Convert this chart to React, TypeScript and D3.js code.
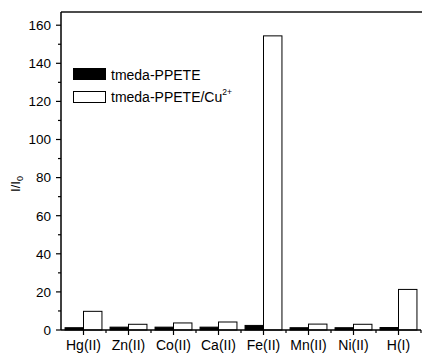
import React from "react";
import * as d3 from "d3";

const categories = ["Hg(II)", "Zn(II)", "Co(II)", "Ca(II)", "Fe(II)", "Mn(II)", "Ni(II)", "H(I)"];
const ppeteValues = [1.2, 1.5, 1.5, 1.5, 2.4, 1.2, 1.2, 1.3];
const ppeteCuValues = [9.8, 3.0, 3.7, 4.2, 154.4, 3.1, 3.0, 21.3];
const yTicks = [0, 20, 40, 60, 80, 100, 120, 140, 160];
const yMinorTicks = [10, 30, 50, 70, 90, 110, 130, 150];
const legendLabels = ["tmeda-PPETE", "tmeda-PPETE/Cu"];

const W = 422;
const H = 354;
const left = 61;
const right = 421;
const top = 12;
const bottom = 330;

export default function App() {
  // band scale, one band per ion
  const x = d3.scaleBand<string>().domain(categories).range([left, right]).padding(0);
  const y = d3.scaleLinear().domain([0, 160]).range([bottom, 25.2]);
  const bw = x.bandwidth() * 0.41;
  const font = "'Liberation Sans', Arial, sans-serif";

  return (
    <svg width={W} height={H} style={{ position: "absolute", left: 0, top: 0, background: "#fff" }} fontFamily={font}>
      {/* bars */}
      {categories.map((c, i) => {
        const cx = x(c)! + x.bandwidth() / 2;
        return (
          <g key={c}>
            <rect x={cx - bw} y={y(ppeteValues[i])} width={bw} height={y(0) - y(ppeteValues[i])} fill="#000" stroke="#000" strokeWidth={1} />
            <rect x={cx} y={y(ppeteCuValues[i])} width={bw} height={y(0) - y(ppeteCuValues[i])} fill="#fff" stroke="#000" strokeWidth={1} />
          </g>
        );
      })}

      {/* axes */}
      <line x1={left} x2={right + 1} y1={top} y2={top} stroke="#111" strokeWidth={1.6} />
      <line x1={left} x2={left} y1={top} y2={bottom} stroke="#000" strokeWidth={1.5} />
      <line x1={left} x2={right} y1={bottom} y2={bottom} stroke="#000" strokeWidth={1.5} />

      {yTicks.map((t) => (
        <g key={t}>
          <line x1={left - 5} x2={left} y1={y(t)} y2={y(t)} stroke="#000" strokeWidth={1.2} />
          <text x={left - 10} y={y(t)} dy="0.36em" textAnchor="end" fontSize={13.5}>{t}</text>
        </g>
      ))}
      {yMinorTicks.map((t) => (
        <line key={t} x1={left - 3} x2={left} y1={y(t)} y2={y(t)} stroke="#000" strokeWidth={1.2} />
      ))}

      {categories.map((c) => {
        const cx = x(c)! + x.bandwidth() / 2;
        return (
          <g key={c}>
            <line x1={cx} x2={cx} y1={bottom} y2={bottom + 5} stroke="#000" strokeWidth={1.2} />
            <line x1={x(c)! + x.bandwidth()} x2={x(c)! + x.bandwidth()} y1={bottom} y2={bottom + 3} stroke="#000" strokeWidth={1.2} />
            <text x={cx} y={350} textAnchor="middle" fontSize={14}>{c}</text>
          </g>
        );
      })}

      {/* y label */}
      <text transform="translate(20,184) rotate(-90)" textAnchor="middle" fontSize={13}>
        I/I<tspan fontSize={9} dy={3}>0</tspan>
      </text>

      {/* legend */}
      <rect x={73.5} y={68.5} width={32} height={11} fill="#000" stroke="#000" />
      <text x={111} y={80} fontSize={14}>{legendLabels[0]}</text>
      <rect x={73.5} y={91.5} width={32} height={11} fill="#fff" stroke="#000" />
      <text x={111} y={102} fontSize={14}>
        {legendLabels[1]}<tspan fontSize={8.5} dy={-7}>2+</tspan>
      </text>
    </svg>
  );
}
